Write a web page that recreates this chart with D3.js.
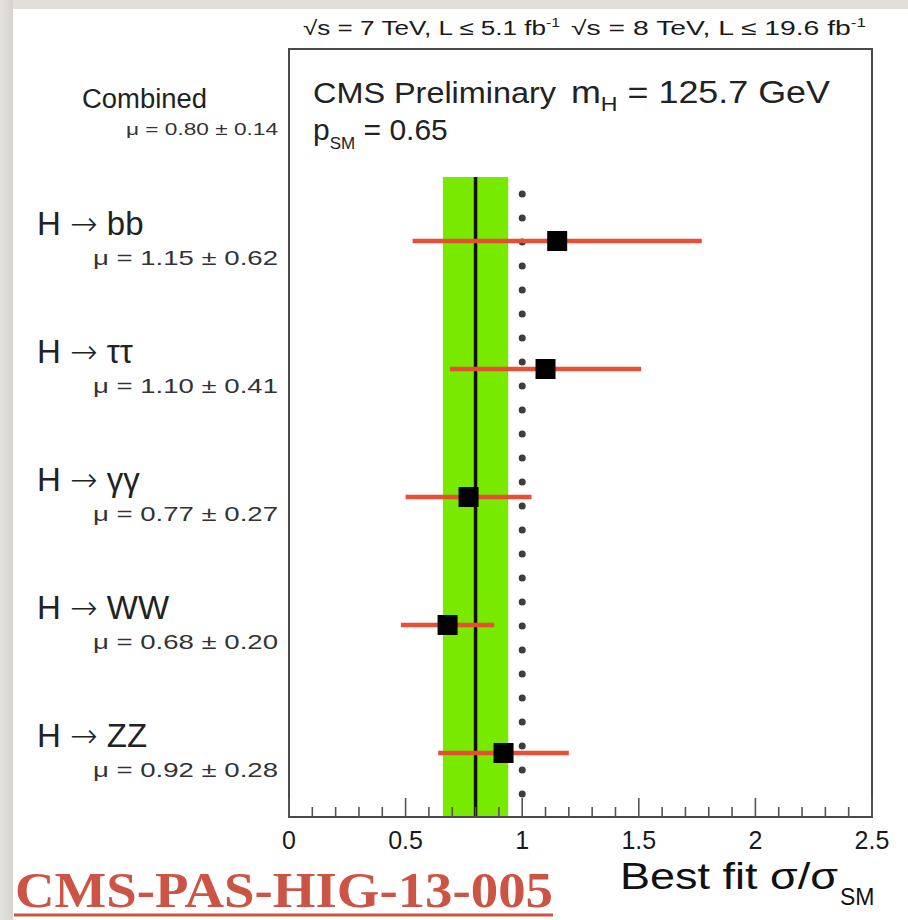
<!DOCTYPE html>
<html>
<head>
<meta charset="utf-8">
<script src="https://cdn.jsdelivr.net/npm/d3@7"></script>
<style>
  html, body { margin: 0; padding: 0; background: #fff; }
  svg { display: block; font-family: "Liberation Sans", Arial, Helvetica, sans-serif; }
</style>
</head>
<body>
<svg id="chart" width="908" height="920"></svg>
<script>
// Signal-strength measurements per decay channel (first row is the combination)
const channels = ["Combined", "H → bb", "H → ττ", "H → γγ", "H → WW", "H → ZZ"];
const muValues = [0.80, 1.15, 1.10, 0.77, 0.68, 0.92];
const muErrors = [0.14, 0.62, 0.41, 0.27, 0.20, 0.28];

// Axis ticks
const majorTicks = [0, 0.5, 1, 1.5, 2, 2.5];
const minorTicks = d3.range(0, 26).map(i => i / 10);
const smReference = 1.0;

const svg = d3.select("#chart");
const W = 908, H = 920;

// page background with a shaded edge
const defs = svg.append("defs");
const gl = defs.append("linearGradient").attr("id", "edgeL").attr("x1", 0).attr("x2", 1).attr("y1", 0).attr("y2", 0);
gl.append("stop").attr("offset", 0).attr("stop-color", "#e6e3de");
gl.append("stop").attr("offset", 1).attr("stop-color", "#d6d3cd");
svg.append("rect").attr("width", W).attr("height", H).attr("fill", "#e2dfd9");
svg.append("rect").attr("width", 13).attr("height", H).attr("fill", "url(#edgeL)");
svg.append("rect").attr("x", 13).attr("y", 9).attr("width", W - 13).attr("height", H - 9).attr("fill", "#ffffff");

const frame = { left: 289, right: 872, top: 49, bottom: 817 };

const x = d3.scaleLinear().domain([0, 2.5]).range([frame.left, frame.right]);
const y = d3.scaleBand().domain(channels).range([frame.top, frame.bottom]).paddingInner(0).paddingOuter(0);

const rows = channels.map((c, i) => ({ name: c, mu: muValues[i], err: muErrors[i], idx: i }));
const combined = rows[0];
const channelRows = rows.slice(1);

// combined 1-sigma band and best-fit line
const bandTop = y(channels[1]);
svg.append("rect")
  .attr("x", x(combined.mu - combined.err))
  .attr("y", bandTop)
  .attr("width", x(combined.mu + combined.err) - x(combined.mu - combined.err))
  .attr("height", frame.bottom - bandTop)
  .attr("fill", "#78ea00");

svg.append("line")
  .attr("x1", x(combined.mu)).attr("x2", x(combined.mu))
  .attr("y1", bandTop).attr("y2", frame.bottom)
  .attr("stroke", "#111").attr("stroke-width", 3.5);

// SM expectation (dotted)
svg.append("line")
  .attr("x1", x(smReference)).attr("x2", x(smReference))
  .attr("y1", bandTop + 17).attr("y2", frame.bottom)
  .attr("stroke", "#3c3c3c").attr("stroke-width", 7)
  .attr("stroke-linecap", "round")
  .attr("stroke-dasharray", "0 24");

// error bars
svg.append("g").selectAll("line").data(channelRows).join("line")
  .attr("x1", d => x(d.mu - d.err))
  .attr("x2", d => x(d.mu + d.err))
  .attr("y1", d => y(d.name) + y.bandwidth() / 2)
  .attr("y2", d => y(d.name) + y.bandwidth() / 2)
  .attr("stroke", "#e84e34").attr("stroke-width", 4.5);

// best-fit markers
const ms = 20;
svg.append("g").selectAll("rect").data(channelRows).join("rect")
  .attr("x", d => x(d.mu) - ms / 2)
  .attr("y", d => y(d.name) + y.bandwidth() / 2 - ms / 2)
  .attr("width", ms).attr("height", ms)
  .attr("fill", "#000");

// frame
svg.append("rect")
  .attr("x", frame.left).attr("y", frame.top)
  .attr("width", frame.right - frame.left).attr("height", frame.bottom - frame.top)
  .attr("fill", "none").attr("stroke", "#4a4a4a").attr("stroke-width", 2);

// x axis ticks (inward) and labels
const axisG = svg.append("g");
axisG.selectAll("line.minor").data(minorTicks.filter(t => Math.round(t * 10) % 5 !== 0)).join("line")
  .attr("class", "minor")
  .attr("x1", d => x(d)).attr("x2", d => x(d))
  .attr("y1", frame.bottom).attr("y2", frame.bottom - 10)
  .attr("stroke", "#555").attr("stroke-width", 1.6);
axisG.selectAll("line.major").data(majorTicks).join("line")
  .attr("class", "major")
  .attr("x1", d => x(d)).attr("x2", d => x(d))
  .attr("y1", frame.bottom).attr("y2", frame.bottom - 19)
  .attr("stroke", "#555").attr("stroke-width", 1.6);
axisG.selectAll("text").data(majorTicks).join("text")
  .attr("x", d => x(d))
  .attr("y", 849)
  .attr("text-anchor", "middle")
  .attr("font-size", 25)
  .attr("fill", "#1a1a1a")
  .text(d => d3.format("")(d));

// axis title
svg.append("text")
  .attr("x", 620).attr("y", 889)
  .attr("fill", "#111")
  .attr("font-size", 37)
  .attr("textLength", 218).attr("lengthAdjust", "spacingAndGlyphs")
  .text("Best fit σ/σ");
svg.append("text")
  .attr("x", 840).attr("y", 905)
  .attr("fill", "#111")
  .attr("font-size", 23)
  .text("SM");

// header: centre-of-mass energies and luminosities
function header(x0, len, s) {
  const t = svg.append("text").attr("x", x0).attr("y", 35).attr("font-size", 20).attr("fill", "#1a1a1a")
    .attr("textLength", len).attr("lengthAdjust", "spacingAndGlyphs");
  t.append("tspan").text(s);
  t.append("tspan").attr("font-size", 12).attr("dy", -8).text("-1");
}
header(303, 257, "√s = 7 TeV, L ≤ 5.1 fb");
header(571, 295, "√s = 8 TeV, L ≤ 19.6 fb");

// in-frame labels
svg.append("text").attr("x", 313).attr("y", 103).attr("font-size", 30).attr("fill", "#222")
  .attr("textLength", 243).attr("lengthAdjust", "spacingAndGlyphs").text("CMS Preliminary");
const mh = svg.append("text").attr("x", 571).attr("y", 103).attr("font-size", 31).attr("fill", "#222")
  .attr("textLength", 259).attr("lengthAdjust", "spacingAndGlyphs");
mh.append("tspan").text("m");
mh.append("tspan").attr("font-size", 20).attr("dy", 8).text("H");
mh.append("tspan").attr("dy", -8).text(" = 125.7 GeV");
const psm = svg.append("text").attr("x", 313).attr("y", 140).attr("font-size", 30).attr("fill", "#222");
psm.append("tspan").text("p");
psm.append("tspan").attr("font-size", 17).attr("dy", 9).text("SM");
psm.append("tspan").attr("dy", -9).text(" = 0.65");

// channel labels and signal-strength values
const fmt = d3.format(".2f");
rows.forEach(d => {
  const cy = y(d.name) + y.bandwidth() / 2;
  const isComb = d.idx === 0;
  const t = svg.append("text")
    .attr("x", isComb ? 82 : 37)
    .attr("y", isComb ? cy - 5 : cy - 6)
    .attr("font-size", isComb ? 27 : 33)
    .attr("fill", "#222");
  if (isComb) {
    t.attr("textLength", 125).attr("lengthAdjust", "spacingAndGlyphs").text(d.name);
  } else {
    const parts = d.name.split(" → ");
    t.append("tspan").text(parts[0] + " ");
    t.append("tspan").style("font-family", "'DejaVu Sans', sans-serif").attr("font-weight", 300).text("→");
    t.append("tspan").text(" " + parts[1]);
  }
  svg.append("text")
    .attr("x", 278)
    .attr("y", isComb ? cy + 22 : cy + 24)
    .attr("text-anchor", "end")
    .attr("font-size", isComb ? 17 : 21)
    .attr("fill", "#333")
    .attr("textLength", isComb ? 152 : 185)
    .attr("lengthAdjust", "spacingAndGlyphs")
    .text(`μ = ${fmt(d.mu)} ± ${fmt(d.err)}`);
});

// document reference
svg.append("text")
  .attr("x", 15).attr("y", 907)
  .style("font-family", "'Liberation Serif', 'Times New Roman', serif")
  .attr("font-weight", "bold")
  .attr("font-size", 50)
  .attr("fill", "#cc5444")
  .attr("textLength", 538).attr("lengthAdjust", "spacingAndGlyphs")
  .text("CMS-PAS-HIG-13-005");
svg.append("line")
  .attr("x1", 14).attr("x2", 553).attr("y1", 915).attr("y2", 915)
  .attr("stroke", "#cc5444").attr("stroke-width", 3);
</script>
</body>
</html>
